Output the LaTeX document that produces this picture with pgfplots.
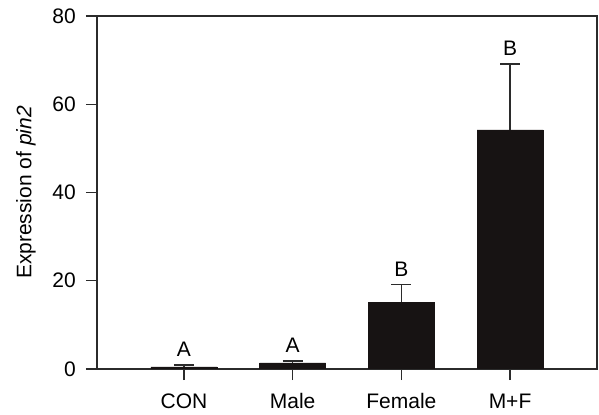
\documentclass[border=0pt]{standalone}
\usepackage{pgfplots}
\pgfplotsset{compat=1.18}
\usepackage{fontspec}
\setmainfont{Liberation Sans}
\newcommand{\chartfont}{\fontsize{21bp}{25bp}\selectfont}
\definecolor{barfill}{HTML}{171313}
\definecolor{linec}{HTML}{2B2B2B}
\begin{document}
\chartfont
\begin{tikzpicture}
\useasboundingbox (0,0) rectangle (599bp,415bp);
\begin{axis}[
  at={(97bp,46bp)}, anchor=south west,
  scale only axis, width=500bp, height=353bp,
  xmin=-0.8, xmax=3.8, ymin=0, ymax=80,
  xtick={0,1,2,3}, xticklabels={CON,Male,Female,M+F},
  ytick={0,20,40,60,80},
  tick align=outside, xtick pos=bottom, ytick pos=left,
  major tick length=11bp,
  tick style={line width=1.3bp, linec},
  axis line style={line width=1.3bp, linec},
  /pgf/number format/assume math mode=true,
  every tick label/.append style={font=\chartfont},
  yticklabel style={xshift=-3bp},
  xticklabel style={text height=15bp, text depth=4bp, yshift=-6bp},
  ylabel={Expression of \textit{pin2}},
  ylabel style={font=\chartfont, at={(axis description cs:-0.142,0.5)}, anchor=center},
]
\addplot[ybar, bar width=66bp, fill=barfill, draw=barfill,
  error bars/.cd, y dir=plus, y explicit,
  error bar style={line width=1.2bp, linec},
  error mark options={rotate=90, mark size=10bp, line width=1.2bp, linec}]
  coordinates {
  (0,0.5) +- (0,0.4)
  (1,1.4) +- (0,0.4)
  (2,15.1) +- (0,4.0)
  (3,54.2) +- (0,14.9)
};
\addplot[draw=none, nodes near coords, point meta=explicit symbolic,
  nodes near coords style={anchor=south, inner sep=0pt, yshift=8bp, font=\chartfont, text=black}]
  coordinates {(0,0.9) [A] (1,1.8) [A] (2,19.1) [B] (3,69.1) [B]};
\end{axis}
\end{tikzpicture}
\end{document}
